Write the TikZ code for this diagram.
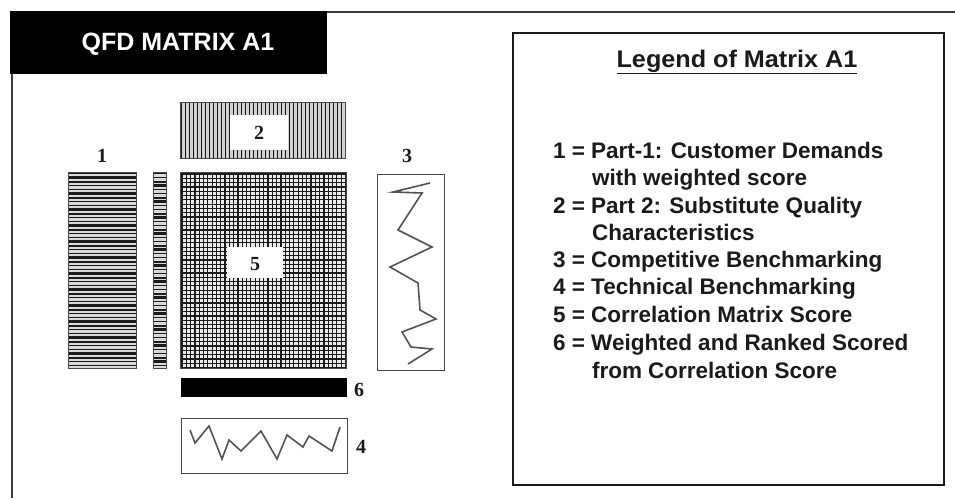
\documentclass[tikz,border=0pt]{standalone}
\usepackage{fontspec}
\setmainfont{Liberation Serif}
\setsansfont{Liberation Sans}
\definecolor{ink}{HTML}{1A1A1A}
\begin{document}
\begin{tikzpicture}[x=1pt,y=-1pt,
  every node/.style={inner sep=0pt, outer sep=0pt},
  numlbl/.style={font=\bfseries\fontsize{20}{20}\selectfont, text=ink},
  legitem/.style={font=\sffamily\bfseries\fontsize{22.5}{22.5}\selectfont, text=ink, anchor=base west},
  frame/.style={draw=ink!85, line width=1.6pt},
  thin/.style={draw=ink!80, line width=1pt},
  zig/.style={draw=ink!75, line width=1.6pt, line join=miter}
]
\useasboundingbox (0,0) rectangle (955,498);

% outer frame
\draw[frame] (12,498) -- (12,12) -- (955,12);
% title bar
\fill[black] (10,11) rectangle (327,74);
\node[font=\sffamily\bfseries\fontsize{25}{25}\selectfont, text=white] (title) at (178,44) {QFD MATRIX A1};

% component 1: horizontal stripes
\fill[black!14] (68,172) rectangle (136,368);
\foreach \i in {0,...,48} {
  \pgfmathsetmacro{\yy}{173.5+4*\i}
  \pgfmathsetmacro{\lw}{1.0+0.5*mod(\i*7,4)}
  \draw[ink, line width=\lw pt] (68,\yy) -- (136,\yy);
}
\draw[thin] (68,172) rectangle (136,368);
% narrow column
\fill[black!14] (153,172) rectangle (166,368);
\foreach \i in {0,...,48} {
  \pgfmathsetmacro{\yy}{173.5+4*\i}
  \pgfmathsetmacro{\lw}{1.0+0.5*mod(\i*5,4)}
  \draw[ink, line width=\lw pt] (153,\yy) -- (166,\yy);
}
\draw[thin] (153,172) rectangle (166,368);

% component 2: vertical stripes
\fill[black!18] (180,102) rectangle (345,158);
\foreach \i in {0,...,41} {
  \pgfmathsetmacro{\xx}{181.5+4*\i}
  \draw[ink, line width=1.7pt] (\xx,102) -- (\xx,158);
}
\draw[thin] (180,102) rectangle (345,158);
\fill[white] (230,115) rectangle (288,150);
\node[numlbl] (n2) at (259,133) {2};

% component 5: grid
\fill[black!8] (180,172) rectangle (346,368);
\foreach \i in {0,...,38} {
  \pgfmathsetmacro{\xx}{182+4.3*\i}
  \draw[ink, line width=1.2pt] (\xx,172) -- (\xx,368);
}
\foreach \i in {0,...,45} {
  \pgfmathsetmacro{\yy}{174+4.3*\i}
  \draw[ink, line width=1.2pt] (180,\yy) -- (346,\yy);
}
\draw[thin] (180,172) rectangle (346,368);
\fill[white] (227,247) rectangle (283,278);
\node[numlbl] (n5) at (255,264) {5};

% labels 1 and 3
\node[numlbl] (n1) at (102,156) {1};
\node[numlbl] (n3) at (407,156) {3};

% component 3: box with zigzag
\draw[thin] (377,174) rectangle (444,370);
\draw[zig] (430,183) -- (393,192) -- (422,193) -- (398,230) -- (432,247) -- (390,267)
  -- (418,283) -- (420,310) -- (436,319) -- (402,332) -- (411,347) -- (432,349) -- (408,364);

% component 6: black bar
\fill[black] (181,378) rectangle (347,397);
\node[numlbl] (n6) at (359,390) {6};

% component 4: box with zigzag
\draw[thin] (181,418) rectangle (347,473);
\draw[zig] (190,430) -- (195,443) -- (209,426) -- (222,459) -- (229,440) -- (241,451)
  -- (261,431) -- (277,459) -- (287,435) -- (303,447) -- (309,436) -- (332,451) -- (340,427);
\node[numlbl] (n4) at (361,447) {4};

% legend box
\draw[draw=ink, line width=1.8pt] (513,33) rectangle (944,485);
\node[font=\sffamily\bfseries\fontsize{24}{24}\selectfont, text=ink, anchor=base, xscale=1.05] (legt) at (737,67) {\underline{Legend of Matrix A1}};
\node[legitem] (l1) at (553,158) {1 = Part-1: Customer Demands};
\node[legitem] (l1b) at (592,185) {with weighted score};
\node[legitem] (l2) at (553,213) {2 = Part 2: Substitute Quality};
\node[legitem] (l2b) at (592,240) {Characteristics};
\node[legitem] (l3) at (553,267) {3 = Competitive Benchmarking};
\node[legitem] (l4) at (553,294) {4 = Technical Benchmarking};
\node[legitem] (l5) at (553,322) {5 = Correlation Matrix Score};
\node[legitem] (l6) at (553,350) {6 = Weighted and Ranked Scored};
\node[legitem] (l6b) at (592,378) {from Correlation Score};
\end{tikzpicture}
\end{document}
